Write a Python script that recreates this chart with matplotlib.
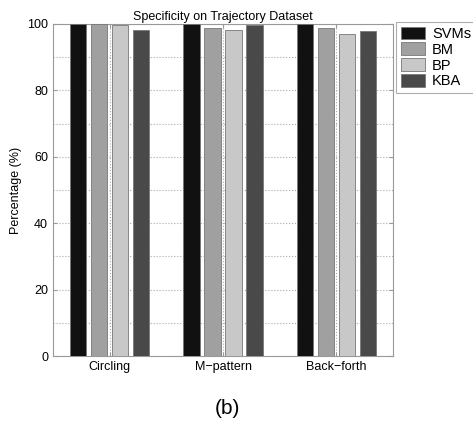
import numpy as np
from matplotlib import pyplot as plt

plt.rcParams['font.family'] = ['Liberation Sans', 'DejaVu Sans']

categories = ["Circling", "M\u2212pattern", "Back\u2212forth"]
methods = ["SVMs", "BM", "BP", "KBA"]
svms = [100.0, 100.0, 100.0]
bm = [100.0, 98.9, 98.9]
bp = [99.8, 98.1, 97.0]
kba = [98.2, 99.6, 98.0]
colors = ['#111111', '#a0a0a0', '#c8c8c8', '#494949']

fig = plt.figure(figsize=(4.73, 4.28), dpi=100)
ax = fig.add_axes([0.112, 0.168, 0.719, 0.776])

x = np.arange(1, len(categories) + 1)
spacing = 0.185
width = 0.145
for i, (vals, name) in enumerate(zip([svms, bm, bp, kba], methods)):
    offset = (i - 1.5) * spacing
    ax.bar(x + offset, vals, width, color=colors[i], edgecolor='#777777',
           linewidth=0.6, label=name, zorder=3)

ax.set_xlim(0.5, 3.5)
ax.set_ylim(0, 100)
ax.set_xticks(x)
ax.set_xticklabels(categories, fontsize=9)
ax.set_yticks(np.arange(0, 101, 20))
ax.set_yticks(np.arange(0, 101, 10), minor=True)
ax.tick_params(axis='y', labelsize=9)
ax.tick_params(which='both', direction='in', top=True, right=True, color='#999999')
ax.tick_params(which='major', length=3)
ax.tick_params(which='minor', length=0)
ax.grid(True, which='both', axis='y', linestyle=':', color='#aaaaaa', linewidth=0.8)
ax.grid(True, which='major', axis='x', linestyle=':', color='#aaaaaa', linewidth=0.8)
for spine in ax.spines.values():
    spine.set_color('#999999')

ax.set_title("Specificity on Trajectory Dataset", fontsize=9, pad=3)
ax.set_ylabel("Percentage (%)", fontsize=9)
ax.yaxis.set_label_coords(-0.092, 0.5)

legend = ax.legend(loc='upper left', bbox_to_anchor=(1.01, 1.005), fontsize=10.5,
                   frameon=True, fancybox=False, edgecolor='#999999',
                   handlelength=1.65, handleheight=0.95, labelspacing=0.1,
                   borderpad=0.3, handletextpad=0.5, borderaxespad=0.0)
legend.get_frame().set_linewidth(0.8)

fig.text(0.48, 0.045, "(b)", fontsize=15, ha='center', va='center')

plt.savefig("out.png", dpi=100)
